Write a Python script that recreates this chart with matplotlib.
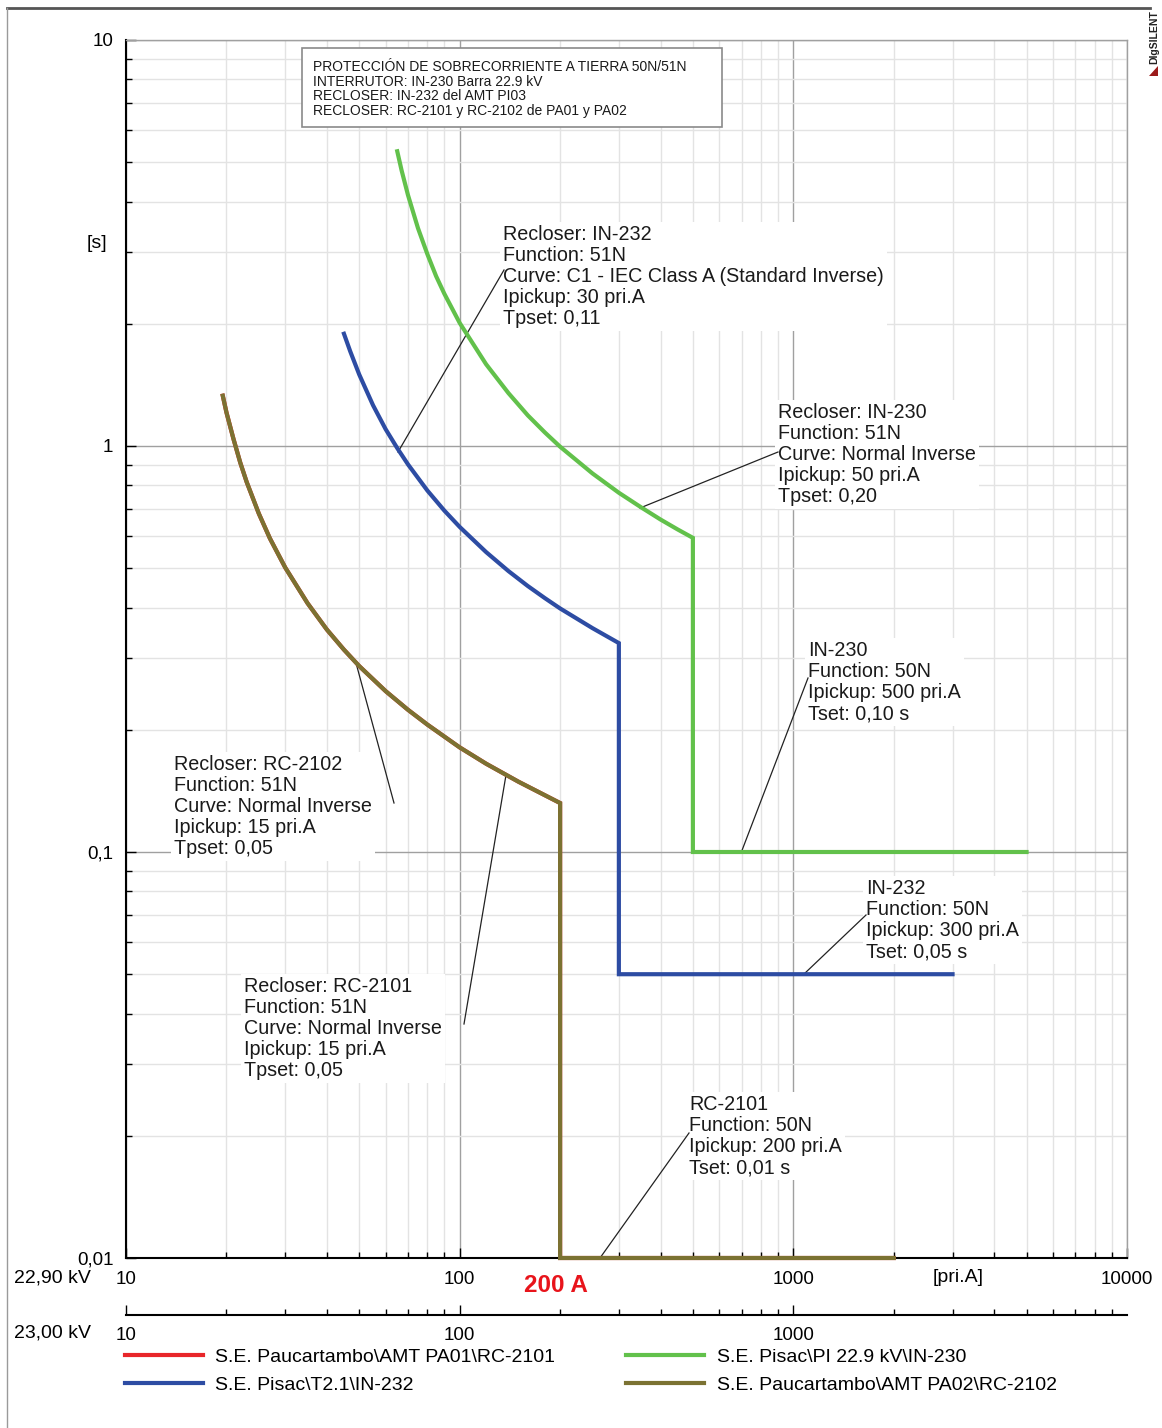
import matplotlib
matplotlib.use('Agg')
import matplotlib.pyplot as plt
from matplotlib.ticker import FixedLocator, FixedFormatter, NullFormatter
from matplotlib.lines import Line2D
from matplotlib.patches import Rectangle, Polygon

plt.rcParams['font.family'] = ['Liberation Sans', 'DejaVu Sans']

# ---------------- data ----------------
# S.E. Pisac\PI 22.9 kV\IN-230  (51N Normal Inverse + 50N 500 A / 0.10 s)
in230_current = [65, 67, 70, 75, 80, 85, 90, 100, 120, 140, 160, 180, 200, 250, 300, 350, 400, 450, 500, 500, 5000]
in230_time = [5.32, 4.77, 4.15, 3.44, 2.97, 2.62, 2.37, 2.01, 1.59, 1.35, 1.19, 1.08, 0.996, 0.856, 0.767, 0.706,
              0.659, 0.623, 0.594, 0.10, 0.10]
# S.E. Pisac\T2.1\IN-232  (51N IEC Class A + 50N 300 A / 0.05 s)
in232_current = [45, 47, 50, 55, 60, 65, 70, 80, 90, 100, 120, 140, 160, 180, 200, 250, 300, 300, 3000]
in232_time = [1.89, 1.71, 1.50, 1.26, 1.10, 0.988, 0.901, 0.777, 0.693, 0.632, 0.548, 0.492, 0.452, 0.422, 0.398,
              0.356, 0.327, 0.05, 0.05]
# S.E. Paucartambo\AMT PA02\RC-2102  (51N Normal Inverse + 50N 200 A / 0.01 s)
rc2102_current = [19.5, 20, 21, 22, 23, 25, 27, 30, 35, 40, 45, 50, 60, 70, 80, 100, 120, 150, 200, 200, 2000]
rc2102_time = [1.33, 1.21, 1.04, 0.910, 0.815, 0.682, 0.592, 0.502, 0.410, 0.353, 0.315, 0.287, 0.249, 0.224,
               0.206, 0.181, 0.165, 0.149, 0.132, 0.01, 0.01]
# S.E. Paucartambo\AMT PA01\RC-2101  (same settings, hidden under RC-2102)
rc2101_current = [19.5, 20, 21, 22, 23, 25, 27, 30, 35, 40, 45, 50, 60, 70, 80, 100, 120, 150, 200, 200, 2000]
rc2101_time = [1.33, 1.21, 1.04, 0.910, 0.815, 0.682, 0.592, 0.502, 0.410, 0.353, 0.315, 0.287, 0.249, 0.224,
               0.206, 0.181, 0.165, 0.149, 0.132, 0.01, 0.01]

series_labels = ['S.E. Paucartambo\\AMT PA01\\RC-2101', 'S.E. Pisac\\T2.1\\IN-232',
                 'S.E. Pisac\\PI 22.9 kV\\IN-230', 'S.E. Paucartambo\\AMT PA02\\RC-2102']

x_major = [10, 100, 1000, 10000]
x_major_labels = ['10', '100', '1000', '10000']
x2_major = [10, 100, 1000]
x2_major_labels = ['10', '100', '1000']
y_major = [0.01, 0.1, 1, 10]
y_major_labels = ['0,01', '0,1', '1', '10']

title_lines = ['PROTECCIÓN DE SOBRECORRIENTE A TIERRA 50N/51N',
               'INTERRUTOR: IN-230 Barra 22.9 kV',
               'RECLOSER: IN-232 del AMT PI03',
               'RECLOSER: RC-2101 y RC-2102 de PA01 y PA02']

notes = [
    'Recloser: IN-232\nFunction: 51N\nCurve: C1 - IEC Class A (Standard Inverse)\nIpickup: 30 pri.A\nTpset: 0,11',
    'Recloser: IN-230\nFunction: 51N\nCurve: Normal Inverse\nIpickup: 50 pri.A\nTpset: 0,20',
    'IN-230\nFunction: 50N\nIpickup: 500 pri.A\nTset: 0,10 s',
    'IN-232\nFunction: 50N\nIpickup: 300 pri.A\nTset: 0,05 s',
    'RC-2101\nFunction: 50N\nIpickup: 200 pri.A\nTset: 0,01 s',
    'Recloser: RC-2102\nFunction: 51N\nCurve: Normal Inverse\nIpickup: 15 pri.A\nTpset: 0,05',
    'Recloser: RC-2101\nFunction: 51N\nCurve: Normal Inverse\nIpickup: 15 pri.A\nTpset: 0,05',
]

# ---------------- layout ----------------
W, H = 1162, 1428
fig = plt.figure(figsize=(W / 100, H / 100), dpi=100)
fig.patch.set_facecolor('white')

AX_L, AX_R, AX_T, AX_B = 126, 1127, 40, 1258
ax = fig.add_axes([AX_L / W, 1 - AX_B / H, (AX_R - AX_L) / W, (AX_B - AX_T) / H])
ax.set_xscale('log')
ax.set_yscale('log')
ax.set_xlim(10, 10000)
ax.set_ylim(0.01, 10)


def P(px, py):
    """pixel position of the reference -> data coordinates"""
    xx = 10 ** (1 + 3 * (px - AX_L) / (AX_R - AX_L))
    yy = 10 ** (1 - 3 * (py - AX_T) / (AX_B - AX_T))
    return xx, yy


minor_x = [m * 10 ** e for e in range(1, 4) for m in range(2, 10)]
minor_y = [m * 10 ** e for e in range(-2, 1) for m in range(2, 10)]
ax.xaxis.set_major_locator(FixedLocator(x_major))
ax.xaxis.set_major_formatter(FixedFormatter(x_major_labels))
ax.xaxis.set_minor_locator(FixedLocator(minor_x))
ax.xaxis.set_minor_formatter(NullFormatter())
ax.yaxis.set_major_locator(FixedLocator(y_major))
ax.yaxis.set_major_formatter(FixedFormatter(y_major_labels))
ax.yaxis.set_minor_locator(FixedLocator(minor_y))
ax.yaxis.set_minor_formatter(NullFormatter())

ax.grid(which='major', color='#a0a0a0', lw=1.0, zorder=0)
ax.grid(which='minor', color='#e3e3e3', lw=1.0, zorder=0)
ax.set_axisbelow(True)
ax.tick_params(which='both', direction='in', color='black', width=1.0, labelsize=13.5, pad=9)
ax.tick_params(which='major', length=7)
ax.tick_params(which='minor', length=4)
for s in ['top', 'right']:
    ax.spines[s].set_color('#a0a0a0')
    ax.spines[s].set_linewidth(1.0)
for s in ['left', 'bottom']:
    ax.spines[s].set_color('black')
    ax.spines[s].set_linewidth(1.5)

# curves
ax.plot(rc2101_current, rc2101_time, color='#e8262a', lw=3, zorder=4, clip_on=False, solid_joinstyle='miter')
ax.plot(in230_current, in230_time, color='#62c14b', lw=3, zorder=4, clip_on=False, solid_joinstyle='miter')
ax.plot(in232_current, in232_time, color='#2d4ca3', lw=3, zorder=4, clip_on=False, solid_joinstyle='miter')
ax.plot(rc2102_current, rc2102_time, color='#7b7232', lw=3, zorder=5, clip_on=False, solid_joinstyle='miter')

# annotation text blocks (left, cap-top pixel) and leader lines (from, to pixel)
note_pos = [(503, 225), (778, 403), (808, 641), (866, 879), (689, 1095), (174, 755), (244, 977)]
leaders = [((504, 270), (398, 452)), ((778, 452), (640, 508)), ((808, 678), (741, 853)),
           ((866, 915), (803, 975)), ((689, 1133), (600, 1258)), ((394, 803), (356, 663)),
           ((464, 1024), (506, 775))]
for txt, (px, py) in zip(notes, note_pos):
    x, y = P(px, py)
    ax.text(x, y, txt, ha='left', va='top', fontsize=14.2, linespacing=1.14, color='#1a1a1a', zorder=3,
            bbox=dict(facecolor='white', edgecolor='none', pad=2))
for (a, b) in leaders:
    xa, ya = P(*a)
    xb, yb = P(*b)
    ax.plot([xa, xb], [ya, yb], color='#222222', lw=0.9, zorder=3.5, clip_on=False)

# axis unit labels
fig.text(97 / W, 1 - 243 / H, '[s]', ha='center', va='center', fontsize=14)
fig.text(958 / W, 1 - 1278 / H, '[pri.A]', ha='center', va='center', fontsize=14)
fig.text(52 / W, 1 - 1278 / H, '22,90 kV', ha='center', va='center', fontsize=14)
fig.text(52 / W, 1 - 1333 / H, '23,00 kV', ha='center', va='center', fontsize=14)
fig.text(556 / W, 1 - 1285 / H, '200 A', ha='center', va='center', fontsize=17.5, weight='bold', color='#e8141b')

# second current axis (23,00 kV)
ax2 = fig.add_axes([AX_L / W, 1 - 1315 / H, (AX_R - AX_L) / W, 0.0005])
ax2.set_xscale('log')
ax2.set_xlim(10, 10000)
ax2.set_yticks([])
ax2.patch.set_visible(False)
for s in ['top', 'left', 'right']:
    ax2.spines[s].set_visible(False)
ax2.spines['bottom'].set_linewidth(1.5)
ax2.xaxis.set_major_locator(FixedLocator(x2_major))
ax2.xaxis.set_major_formatter(FixedFormatter(x2_major_labels))
ax2.xaxis.set_minor_locator(FixedLocator(minor_x))
ax2.xaxis.set_minor_formatter(NullFormatter())
ax2.tick_params(which='both', direction='in', color='black', width=1.0, labelsize=13.5, pad=9)
ax2.tick_params(which='major', length=7)
ax2.tick_params(which='minor', length=4)

# title box
fig.add_artist(Rectangle((302 / W, 1 - 127 / H), 420 / W, 79 / H, transform=fig.transFigure,
                         facecolor='white', edgecolor='#8a8a8a', lw=1.2, zorder=6))
fig.text(313 / W, 1 - 60 / H, '\n'.join(title_lines), ha='left', va='top', fontsize=10, linespacing=1.05,
         color='#1a1a1a', zorder=7)

# legend
handles = [Line2D([], [], color=c, lw=3) for c in ['#e8262a', '#2d4ca3', '#62c14b', '#7b7232']]
fig.legend(handles, series_labels, ncol=2, loc='upper left', bbox_to_anchor=(125 / W, 1 - 1348 / H),
           frameon=False, fontsize=14, handlelength=4.0, handletextpad=0.65, columnspacing=3.65,
           labelspacing=0.56, borderpad=0, borderaxespad=0)

# outer frame and logo
fig.add_artist(Line2D([7 / W, 1150 / W], [1 - 8 / H, 1 - 8 / H], color='#555555', lw=2,
                      transform=fig.transFigure))
fig.add_artist(Line2D([7 / W, 7 / W], [0, 1 - 8 / H], color='#9a9a9a', lw=1, transform=fig.transFigure))
fig.text(1154 / W, 1 - 37 / H, 'DIgSILENT', rotation=90, ha='center', va='center', fontsize=7.5,
         weight='bold', color='#222222')
fig.add_artist(Polygon([[1149 / W, 1 - 76 / H], [1158 / W, 1 - 76 / H], [1158 / W, 1 - 66 / H]], closed=True,
                       transform=fig.transFigure, facecolor='#9b1b1b', edgecolor='none'))

fig.savefig('out.png', dpi=100)
